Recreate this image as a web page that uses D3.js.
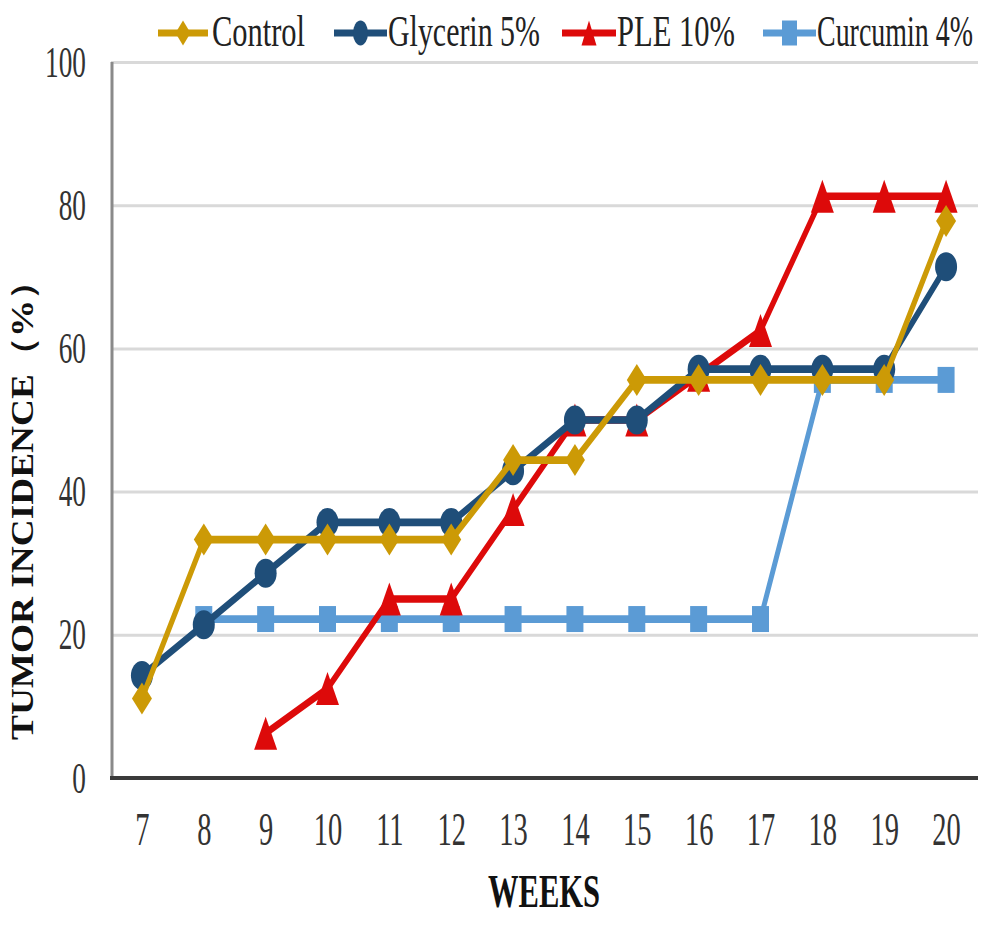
<!DOCTYPE html>
<html>
<head>
<meta charset="utf-8">
<script src="https://cdn.jsdelivr.net/npm/d3@7"></script>
<style>
  html, body { margin: 0; padding: 0; background: #fff; }
  svg { display: block; }
</style>
</head>
<body>
<svg id="chart" width="993" height="926"></svg>
<script>
// ---- data ----
const weeks = [7, 8, 9, 10, 11, 12, 13, 14, 15, 16, 17, 18, 19, 20];
const control  = [11.1, 33.3, 33.3, 33.3, 33.3, 33.3, 44.4, 44.4, 55.6, 55.6, 55.6, 55.6, 55.6, 77.8];
const glycerin = [14.3, 21.4, 28.6, 35.7, 35.7, 35.7, 42.9, 50, 50, 57.1, 57.1, 57.1, 57.1, 71.4];
const ple      = [null, null, 6.25, 12.5, 25, 25, 37.5, 50, 50, 56.25, 62.5, 81.25, 81.25, 81.25];
const curcumin = [null, 22.2, 22.2, 22.2, 22.2, 22.2, 22.2, 22.2, 22.2, 22.2, 22.2, 55.6, 55.6, 55.6];
const yTicks = [0, 20, 40, 60, 80, 100];
const seriesNames = ["Control", "Glycerin 5%", "PLE 10%", "Curcumin 4%"];
const xTitle = "WEEKS";
const yTitle = "TUMOR INCIDENCE（%）";

(function () {
// ---- layout ----
const svg = d3.select("#chart");
const pLeft = 111, pRight = 977, pTop = 62, pBottom = 778;
const k = 1.6; // vertical stretch of the original picture
const serif = "Liberation Serif, Times New Roman, serif";

const x = d3.scalePoint().domain(weeks).range([pLeft, pRight]).padding(0.5);
const y = d3.scaleLinear().domain([0, 100]).range([pBottom, pTop]);
const yInner = d3.scaleLinear().domain([0, 100]).range([pBottom / k, pTop / k]);

const series = [
  { name: seriesNames[3], values: curcumin, color: "#5B9BD5", marker: "square" },
  { name: seriesNames[2], values: ple,      color: "#DD0A0A", marker: "triangle" },
  { name: seriesNames[1], values: glycerin, color: "#1F4E79", marker: "circle" },
  { name: seriesNames[0], values: control,  color: "#CC9A06", marker: "diamond" }
];

function markerPath(type, w, h) {
  const hw = w / 2, hh = h / 2;
  if (type === "diamond") return `M0,${-hh}L${hw},0L0,${hh}L${-hw},0Z`;
  if (type === "triangle") return `M0,${-hh}L${hw},${hh}L${-hw},${hh}Z`;
  if (type === "square") return `M${-hw},${-hh}H${hw}V${hh}H${-hw}Z`;
  return `M${-hw},0A${hw},${hh} 0 1,0 ${hw},0A${hw},${hh} 0 1,0 ${-hw},0Z`;
}
const markerSize = {
  diamond: [20, 32], circle: [22, 29], triangle: [23, 33], square: [17, 26]
};

// text squeezed horizontally to a target width via a transform
function squeezedText(parent, str, px, py, width, opts) {
  const g = parent.append("g").attr("transform", `translate(${px},${py})${opts.rotate ? " rotate(-90)" : ""}`);
  const t = g.append("text").attr("x", 0).attr("y", 0)
    .attr("font-family", serif)
    .attr("font-size", opts.size)
    .attr("font-weight", opts.bold ? "bold" : "normal")
    .attr("fill", opts.fill || "#222")
    .attr("text-anchor", opts.anchor || "start")
    .text(str);
  const natural = t.node().getComputedTextLength();
  t.attr("transform", `scale(${width / natural},1)`);
  return t;
}

// ---- gridlines + y axis ----
const yAxis = d3.axisLeft(y).tickValues(yTicks).tickSize(-(pRight - pLeft + 1)).tickSizeOuter(0).tickFormat(d3.format("d"));
const gy = svg.append("g").attr("transform", `translate(${pLeft},0)`).call(yAxis);
gy.select(".domain").remove();
gy.selectAll(".tick line").attr("stroke", "#d9d9d9").attr("stroke-width", 3);
const sx = 0.62;
gy.selectAll(".tick text")
  .attr("font-family", serif)
  .attr("font-size", 44)
  .attr("fill", "#333")
  .attr("text-anchor", "end")
  .attr("dy", null)
  .attr("y", 14)
  .attr("x", -25 / sx)
  .attr("transform", `scale(${sx},1)`);

// left axis line
svg.append("line").attr("x1", pLeft + 1).attr("x2", pLeft + 1).attr("y1", pTop).attr("y2", pBottom)
  .attr("stroke", "#8a8a8a").attr("stroke-width", 3);

// ---- x axis ----
const xAxis = d3.axisBottom(x).tickSize(0).tickSizeOuter(0);
const gx = svg.append("g").attr("transform", `translate(0,${pBottom})`).call(xAxis);
gx.select(".domain").attr("stroke", "#3a3a3a").attr("stroke-width", 4)
  .attr("d", `M${pLeft - 1},0H${pRight + 1}`);
gx.selectAll(".tick text")
  .attr("font-family", serif)
  .attr("font-size", 46)
  .attr("fill", "#333")
  .attr("dy", null)
  .attr("y", 67)
  .attr("transform", `scale(${sx},1)`);

// ---- series ----
const plot = svg.append("g");
const line = d3.line().defined(d => d.v != null).x(d => x(d.w)).y(d => yInner(d.v));
series.forEach(s => {
  const pts = weeks.map((w, i) => ({ w, v: s.values[i] }));
  plot.append("g").attr("transform", `scale(1,${k})`)
    .append("path").datum(pts)
    .attr("d", line)
    .attr("fill", "none")
    .attr("stroke", s.color)
    .attr("stroke-width", 4.8)
    .attr("stroke-linejoin", "round");
  const [mw, mh] = markerSize[s.marker];
  plot.append("g").selectAll("path").data(pts.filter(d => d.v != null)).join("path")
    .attr("transform", d => `translate(${x(d.w)},${y(d.v)})`)
    .attr("d", markerPath(s.marker, mw, mh))
    .attr("fill", s.color);
});

// ---- legend ----
const legendItems = [
  { s: series[3], x1: 158, x2: 208, tx: 212, tw: 93 },
  { s: series[2], x1: 334, x2: 387, tx: 388, tw: 152 },
  { s: series[1], x1: 562, x2: 616, tx: 617, tw: 118 },
  { s: series[0], x1: 763, x2: 816, tx: 817, tw: 156 }
];
const lg = svg.append("g");
legendItems.forEach(it => {
  const ly = 33;
  lg.append("line").attr("x1", it.x1).attr("x2", it.x2).attr("y1", ly).attr("y2", ly)
    .attr("stroke", it.s.color).attr("stroke-width", 7);
  lg.append("path").attr("transform", `translate(${(it.x1 + it.x2) / 2},${ly})`)
    .attr("d", markerPath(it.s.marker, 15, 25))
    .attr("fill", it.s.color);
  squeezedText(lg, it.s.name, it.tx, 46, it.tw, { size: 44, fill: "#222" });
});

// ---- titles ----
squeezedText(svg, xTitle, 488, 907, 112, { size: 46, bold: true, fill: "#111" });
// y title: rotated, length along the vertical direction
(function () {
  const g = svg.append("g").attr("transform", "translate(33,740) rotate(-90)");
  const t = g.append("text").attr("x", 0).attr("y", 0)
    .attr("font-family", serif).attr("font-weight", "bold")
    .attr("font-size", 31).attr("fill", "#111").text(yTitle);
  const natural = t.node().getComputedTextLength();
  t.attr("transform", `scale(${478 / natural},1)`);
})();
})();
</script>
</body>
</html>
